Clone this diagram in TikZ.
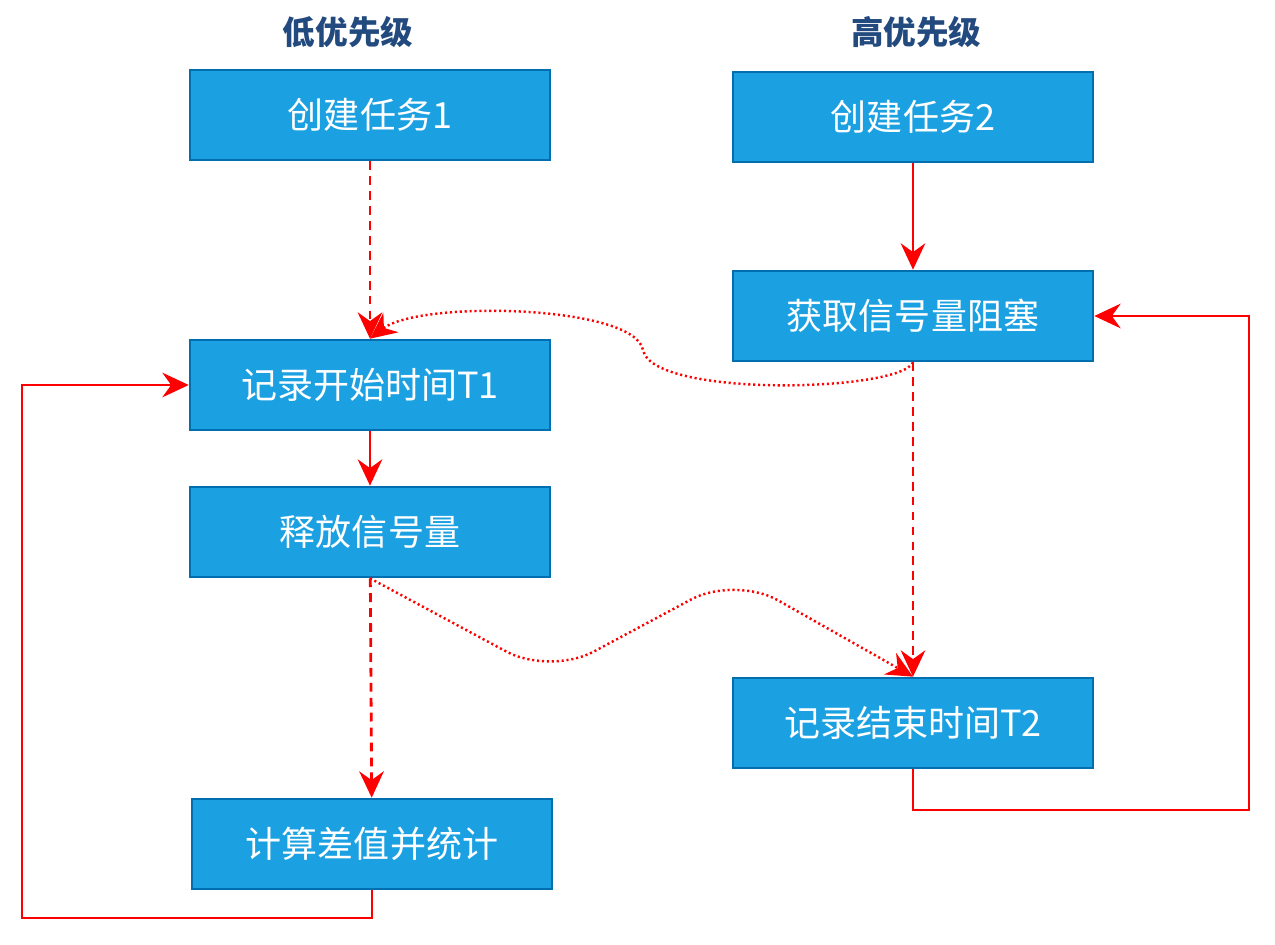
\documentclass[tikz,border=0pt]{standalone}
\usepackage{fontspec}
\newfontfamily\cjk{Noto Sans CJK SC}
\usetikzlibrary{arrows.meta, calc}

\definecolor{boxfill}{HTML}{1BA1E2}
\definecolor{boxline}{HTML}{006EAF}
\definecolor{headblue}{HTML}{234A7E}

\begin{document}
\begin{tikzpicture}[
            x=0.02cm, y=-0.02cm,
            step box/.style={rectangle, draw=boxline, line width=1.5pt, fill=boxfill, minimum width=7.2cm, minimum height=1.8cm, align=center, text=white, font=\cjk\fontsize{20.5}{24}\selectfont},
            head/.style={font=\cjk\bfseries\fontsize{18.5}{22}\selectfont, text=headblue},
            link/.style={-{Stealth[length=15pt, width=14pt, inset=5pt]}, line width=1.6pt, red},
            wait/.style={link, dash pattern=on 5pt off 3.5pt},
            signal/.style={link, line width=1.4pt, dash pattern=on 1.2pt off 1.6pt}
        ]
            \useasboundingbox (0,0) rectangle (1275,945);

            % --- Column Headers ---
            \node[head] (lowhead) at (348,32) {低优先级};
            \node[head] (highhead) at (916,32) {高优先级};

            % --- Node Placement ---
            \node[step box] (task1) at (370,115) {创建任务1};
            \node[step box] (start) at (370,385) {记录开始时间T1};
            \node[step box] (give) at (370,532) {释放信号量};
            \node[step box] (calc) at (372,844) {计算差值并统计};

            \node[step box] (task2) at (913,117) {创建任务2};
            \node[step box] (take) at (913,316) {获取信号量阻塞};
            \node[step box] (stop) at (913,723) {记录结束时间T2};

            \coordinate (loopL) at (22,918);
            \coordinate (loopR) at (1249,810);

            % --- Links ---
            \draw[wait] (task1) -- (start);
            \draw[link] (start) -- (give);
            \draw[wait] (give) -- (calc);
            \draw[link] (calc.south) |- (loopL) |- (start.west);

            \draw[link] (task2) -- (take);
            \draw[wait] (take) -- (stop);
            \draw[link] (stop.south) |- (loopR) |- (take.east);

            % Semaphore hand-over
            \draw[signal] (take.south) .. controls (900,392) and (652,398) .. (643,350)
              .. controls (635,305) and (420,300) .. (start.north);
            \draw[signal, rounded corners=28] (give.south) -- (550,675) -- (735,576) -- (stop.north);
        \end{tikzpicture}
\end{document}
